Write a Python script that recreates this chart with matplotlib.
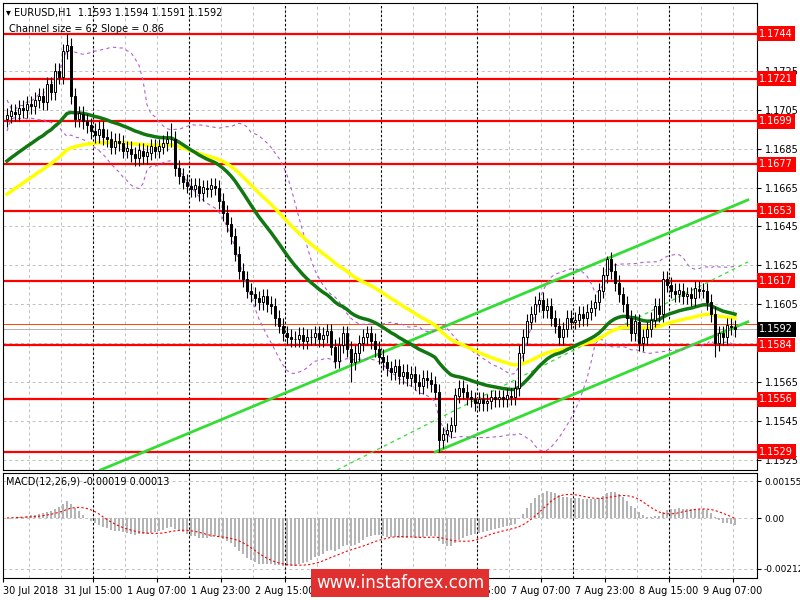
import matplotlib
matplotlib.use("Agg")
import matplotlib.pyplot as plt
import numpy as np
import pandas as pd

closes = [1.1702,1.1704,1.1703,1.1706,1.1705,1.1708,1.1707,1.1710,1.1712,1.1709,
1.1718,1.1714,1.1725,1.1722,1.1735,1.1738,1.1712,1.1700,1.1703,1.1699,
1.1697,1.1694,1.1692,1.1695,1.1691,1.1690,1.1686,1.1689,1.1688,1.1684,
1.1685,1.1682,1.1680,1.1684,1.1681,1.1683,1.1686,1.1684,1.1686,1.1688,
1.1690,1.1690,1.1675,1.1671,1.1668,1.1666,1.1664,1.1666,1.1662,1.1665,
1.1664,1.1666,1.1665,1.1658,1.1652,1.1646,1.1640,1.1631,1.1622,1.1618,
1.1612,1.1610,1.1608,1.1606,1.1609,1.1605,1.1604,1.1598,1.1594,1.1590,
1.1588,1.1587,1.1587,1.1589,1.1586,1.1588,1.1588,1.1590,1.1587,1.1589,
1.1591,1.1583,1.1576,1.1584,1.1590,1.1582,1.1575,1.1580,1.1585,1.1588,
1.1590,1.1586,1.1582,1.1578,1.1575,1.1572,1.1570,1.1573,1.1568,1.1570,
1.1567,1.1569,1.1565,1.1563,1.1567,1.1566,1.1564,1.1560,1.1535,1.1538,
1.1540,1.1543,1.1558,1.1562,1.1560,1.1557,1.1556,1.1554,1.1556,1.1554,
1.1555,1.1557,1.1556,1.1557,1.1556,1.1558,1.1557,1.1562,1.1580,1.1588,
1.1596,1.1600,1.1605,1.1607,1.1602,1.1604,1.1598,1.1594,1.1588,1.1592,
1.1598,1.1596,1.1597,1.1600,1.1598,1.1601,1.1603,1.1606,1.1612,1.1620,
1.1628,1.1622,1.1616,1.1610,1.1605,1.1598,1.1590,1.1596,1.1585,1.1588,
1.1592,1.1597,1.1604,1.1600,1.1618,1.1615,1.1612,1.1610,1.1612,1.1609,
1.1610,1.1608,1.1613,1.1612,1.1612,1.1606,1.1600,1.1585,1.1590,1.1588,
1.1594,1.1593,1.1592]
first_open = 1.1700
big_wicks = {15: (1.1744, None), 108: (None, 1.1529), 150: (1.1630, None), 177: (None, 1.1578),
             41: (1.1698, None), 86: (None, 1.1565)}
levels = [1.1744, 1.1721, 1.1699, 1.1677, 1.1653, 1.1617, 1.1584, 1.1556, 1.1529]
ytick_vals = [1.1725, 1.1705, 1.1685, 1.1665, 1.1645, 1.1625, 1.1605, 1.1565, 1.1545, 1.1525]
xlabels = ["31 Jul 15:00", "1 Aug 07:00", "1 Aug 23:00", "2 Aug 15:00", "3 Aug 07:00", "3 Aug 23:00",
           "6 Aug 15:00", "7 Aug 07:00", "7 Aug 23:00", "8 Aug 15:00", "9 Aug 07:00"]
upper_ch = [(23.4, 1.15197), (185.2, 1.16586)]
lower_ch = [(107.1, 1.15290), (185.2, 1.15959)]
mid_ch = [(82.5, 1.15197), (185.2, 1.16267)]
green_seed, yellow_seed = 1.1677, 1.1660

c = np.array(closes)
n = len(c)
o = np.concatenate([[first_open], c[:-1]])
hi = np.maximum(o, c) + 0.0004
lo = np.minimum(o, c) - 0.0004
for k, (h, l) in big_wicks.items():
    if h: hi[k] = h
    if l: lo[k] = l
idx = np.arange(n)
s = pd.Series(c)
green = pd.Series(np.concatenate([[green_seed] * 3, c])).ewm(span=30, adjust=False).mean().values[3:]
yellow = pd.Series(np.concatenate([[yellow_seed] * 3, c])).ewm(span=55, adjust=False).mean().values[3:]
mid = s.rolling(20, min_periods=1).mean()
sd = s.rolling(20, min_periods=2).std().fillna(0.0004)
bb_u, bb_l = mid + 2 * sd, mid - 2 * sd
macd = s.ewm(span=12, adjust=False).mean() - s.ewm(span=26, adjust=False).mean()
sig = macd.rolling(9, min_periods=1).mean()

fig = plt.figure(figsize=(8, 6), dpi=100)
ax = fig.add_axes([3/800, 1-470/600, 754/800, 467/600])
mx = fig.add_axes([3/800, 1-578/600, 754/800, 105/600])
for a in (ax, mx):
    a.set_facecolor("white")
    for sp in a.spines.values():
        sp.set_color("black"); sp.set_linewidth(0.8)
    a.yaxis.tick_right()
    a.tick_params(axis="y", labelsize=7, length=3, pad=3)
    a.set_xlim(-1, 187.5)
mx.tick_params(axis="y", labelsize=6.5, pad=2)
ax.set_ylim(1.15197, 1.17599)
mx.set_ylim(-0.002514, 0.001886)

grid_x = np.arange(-2.5, 188, 8)
for a in (ax, mx):
    for gx in grid_x:
        a.axvline(gx, color="#c0c0c0", ls=(0, (3, 3)), lw=0.7, zorder=0)
    for dx in np.arange(21.5, 188, 24):
        a.axvline(dx, color="black", ls=(0, (2, 2)), lw=0.8, zorder=0.5)
for yv in ytick_vals + [1.1585]:
    ax.axhline(yv, color="#c0c0c0", ls=(0, (3, 3)), lw=0.7, zorder=0)
for yv in [0.00155, 0.0, -0.00212]:
    mx.axhline(yv, color="#c0c0c0", ls=(0, (3, 3)), lw=0.7, zorder=0)

ax.set_yticks(ytick_vals)
ax.set_yticklabels([f"{v:.4f}" for v in ytick_vals])
mx.set_yticks([0.00155, 0.0, -0.00212])
mx.set_yticklabels(["0.00155", "0.00", "-0.00212"])
ax.set_xticks([])
mx.set_xticks([-1] + list(np.arange(21.5, 188, 16)))
mx.set_xticklabels(["30 Jul 2018"] + xlabels, fontsize=7)
mx.tick_params(axis="x", length=3, pad=3)
mx.get_xticklabels()[0].set_ha("left")

for lv in levels:
    ax.axhline(lv, color="#ff0000", lw=1.6, zorder=2)
    ax.text(1.003, lv, f"{lv:.4f}", transform=ax.get_yaxis_transform(), va="center", ha="left",
            fontsize=7, color="white", bbox=dict(boxstyle="square,pad=0.25", fc="#ff0000", ec="none"), clip_on=False)
ax.axhline(1.1595, color="#ff4500", lw=0.7, zorder=2)
ax.axhline(1.1592, color="#b0b0b0", lw=0.7, zorder=2)
ax.text(1.003, 1.1592, "1.1592", transform=ax.get_yaxis_transform(), va="center", ha="left",
        fontsize=7, color="white", bbox=dict(boxstyle="square,pad=0.25", fc="black", ec="none"), clip_on=False)

for line, st in ((upper_ch, "-"), (lower_ch, "-"), (mid_ch, (0, (3, 3)))):
    (x0, y0), (x1, y1) = line
    ax.plot([x0, x1], [y0, y1], color="#33dd33", lw=2 if st == "-" else 0.9, ls=st, zorder=3)

ax.plot(idx, bb_u, color="#b060d0", ls=(0, (3, 3)), lw=0.8, zorder=3)
ax.plot(idx, bb_l, color="#b060d0", ls=(0, (3, 3)), lw=0.8, zorder=3)
ax.plot(idx, yellow, color="#ffff00", lw=2.5, zorder=4)
ax.plot(idx, green, color="#117711", lw=2.5, zorder=4)

ax.vlines(idx, lo, hi, color="black", lw=0.8, zorder=5)
up = c >= o
ax.bar(idx[up], (c - o)[up] + 1e-5, bottom=o[up], width=0.7, facecolor="white", edgecolor="black", lw=0.7, zorder=6)
ax.bar(idx[~up], (o - c)[~up], bottom=c[~up], width=0.7, facecolor="black", edgecolor="black", lw=0.7, zorder=6)

mx.bar(idx, macd, width=0.6, color="#b4b4b4", zorder=2)
mx.plot(idx, sig, color="#ff0000", ls=(0, (2, 2)), lw=0.8, zorder=3)

ax.text(0.004, 0.99, "\u25BE EURUSD,H1  1.1593 1.1594 1.1591 1.1592", transform=ax.transAxes, fontsize=7, va="top")
ax.text(0.008, 0.955, "Channel size = 62 Slope = 0.86", transform=ax.transAxes, fontsize=7, va="top")
mx.text(0.004, 0.97, "MACD(12,26,9) -0.00019 0.00013", transform=mx.transAxes, fontsize=7, va="top")
fig.text(0.5, 1-583/600, "www.instaforex.com", ha="center", va="center", fontsize=12, color="white", zorder=10,
         bbox=dict(boxstyle="square,pad=0.3", fc="#e03030", ec="none"))
fig.savefig("out.png", dpi=100, facecolor="white")
